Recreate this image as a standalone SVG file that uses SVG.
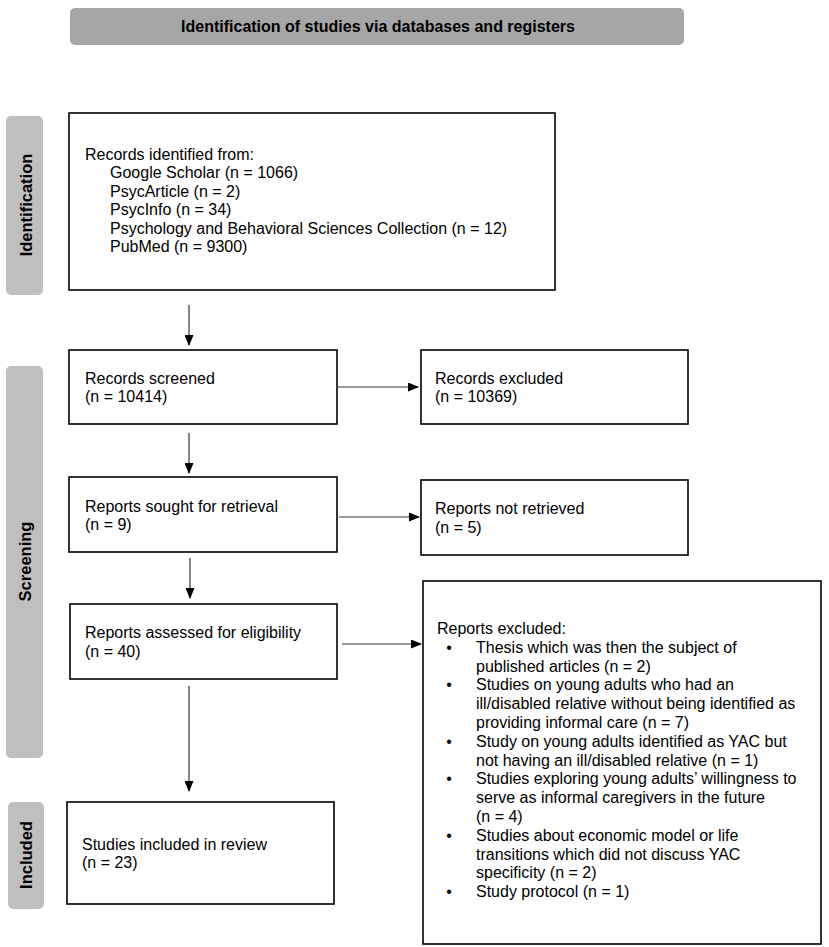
<svg xmlns="http://www.w3.org/2000/svg" width="829" height="947" viewBox="0 0 829 947">
<defs>
<marker id="ah" markerUnits="userSpaceOnUse" markerWidth="11" markerHeight="9" refX="10" refY="4.5" orient="auto">
<path d="M0,0 L11,4.5 L0,9 z" fill="#000"/>
</marker>
<style>
.box{fill:#fff;stroke:#000;stroke-width:1.6}
.side{fill:#bfbfbf;stroke:none}
.t{font-family:"Liberation Sans",Arial,sans-serif;font-size:16px;fill:#000}
.lb{font-family:"Liberation Sans",Arial,sans-serif;font-size:16.5px;font-weight:bold;fill:#000;text-anchor:middle}
.cn{stroke:#333;stroke-width:1.2;fill:none;marker-end:url(#ah)}
</style>
</defs>
<rect width="829" height="947" fill="#fff"/>

<g id="header">
<rect x="70" y="8" width="614" height="37" rx="5" fill="#a6a6a6"/>
<text x="378" y="32" style="font-family:'Liberation Sans',Arial,sans-serif;font-size:16px;font-weight:bold;text-anchor:middle">Identification of studies via databases and registers</text>
</g>

<g id="lbl-identification">
<rect class="side" x="6" y="116" width="37" height="179" rx="5"/>
<text class="lb" transform="translate(32,205) rotate(-90)">Identification</text>
</g>
<g id="lbl-screening">
<rect class="side" x="6" y="366" width="37" height="392" rx="5"/>
<text class="lb" transform="translate(31,561.5) rotate(-90)">Screening</text>
</g>
<g id="lbl-included">
<rect class="side" x="8" y="802" width="36" height="107" rx="5"/>
<text class="lb" transform="translate(32,855) rotate(-90)">Included</text>
</g>

<g id="identified">
<rect class="box" x="69" y="113" width="486" height="177"/>
<text class="t" x="85" y="160">Records identified from:</text>
<text class="t" x="110" y="178.4">Google Scholar (n = 1066)</text>
<text class="t" x="110" y="196.8">PsycArticle (n = 2)</text>
<text class="t" x="110" y="215.2">PsycInfo (n = 34)</text>
<text class="t" x="110" y="233.6">Psychology and Behavioral Sciences Collection (n = 12)</text>
<text class="t" x="110" y="252">PubMed (n = 9300)</text>
</g>

<g id="screened">
<rect class="box" x="69" y="350" width="268" height="74"/>
<text class="t" x="85" y="383.5">Records screened</text>
<text class="t" x="85" y="402">(n = 10414)</text>
</g>

<g id="excluded-records">
<rect class="box" x="421" y="350" width="267" height="74"/>
<text class="t" x="435" y="383.5">Records excluded</text>
<text class="t" x="435" y="402">(n = 10369)</text>
</g>

<g id="sought">
<rect class="box" x="69" y="477" width="268" height="75"/>
<text class="t" x="85" y="511.5">Reports sought for retrieval</text>
<text class="t" x="85" y="530">(n = 9)</text>
</g>

<g id="not-retrieved">
<rect class="box" x="421" y="480" width="267" height="75"/>
<text class="t" x="435" y="514">Reports not retrieved</text>
<text class="t" x="435" y="532.5">(n = 5)</text>
</g>

<g id="assessed">
<rect class="box" x="70" y="604" width="267" height="75"/>
<text class="t" x="85" y="638">Reports assessed for eligibility</text>
<text class="t" x="85" y="656.5">(n = 40)</text>
</g>

<g id="included">
<rect class="box" x="67" y="802" width="267" height="102"/>
<text class="t" x="82" y="849.5">Studies included in review</text>
<text class="t" x="82" y="868">(n = 23)</text>
</g>

<g id="excluded-reports">
<rect class="box" x="423" y="581" width="398" height="363"/>
<text class="t" x="437" y="634">Reports excluded:</text>
<g class="t" style="text-anchor:middle">
<text x="449" y="652.8">•</text>
<text x="449" y="690.4">•</text>
<text x="449" y="746.8">•</text>
<text x="449" y="784.4">•</text>
<text x="449" y="840.8">•</text>
<text x="449" y="897.2">•</text>
</g>
<text class="t" x="476" y="652.8">Thesis which was then the subject of</text>
<text class="t" x="476" y="671.6">published articles (n = 2)</text>
<text class="t" x="476" y="690.4">Studies on young adults who had an</text>
<text class="t" x="476" y="709.2">ill/disabled relative without being identified as</text>
<text class="t" x="476" y="728">providing informal care (n = 7)</text>
<text class="t" x="476" y="746.8">Study on young adults identified as YAC but</text>
<text class="t" x="476" y="765.6">not having an ill/disabled relative (n = 1)</text>
<text class="t" x="476" y="784.4">Studies exploring young adults’ willingness to</text>
<text class="t" x="476" y="803.2">serve as informal caregivers in the future</text>
<text class="t" x="476" y="822">(n = 4)</text>
<text class="t" x="476" y="840.8">Studies about economic model or life</text>
<text class="t" x="476" y="859.6">transitions which did not discuss YAC</text>
<text class="t" x="476" y="878.4">specificity (n = 2)</text>
<text class="t" x="476" y="897.2">Study protocol (n = 1)</text>
</g>

<g id="connectors">
<line class="cn" x1="189" y1="305" x2="189" y2="345"/>
<line class="cn" x1="338" y1="387" x2="418" y2="387"/>
<line class="cn" x1="189" y1="433" x2="189" y2="473"/>
<line class="cn" x1="339" y1="517" x2="419" y2="517"/>
<line class="cn" x1="190" y1="558" x2="190" y2="598"/>
<line class="cn" x1="342" y1="644" x2="421" y2="644"/>
<line class="cn" x1="189" y1="686" x2="189" y2="791"/>
</g>
</svg>
